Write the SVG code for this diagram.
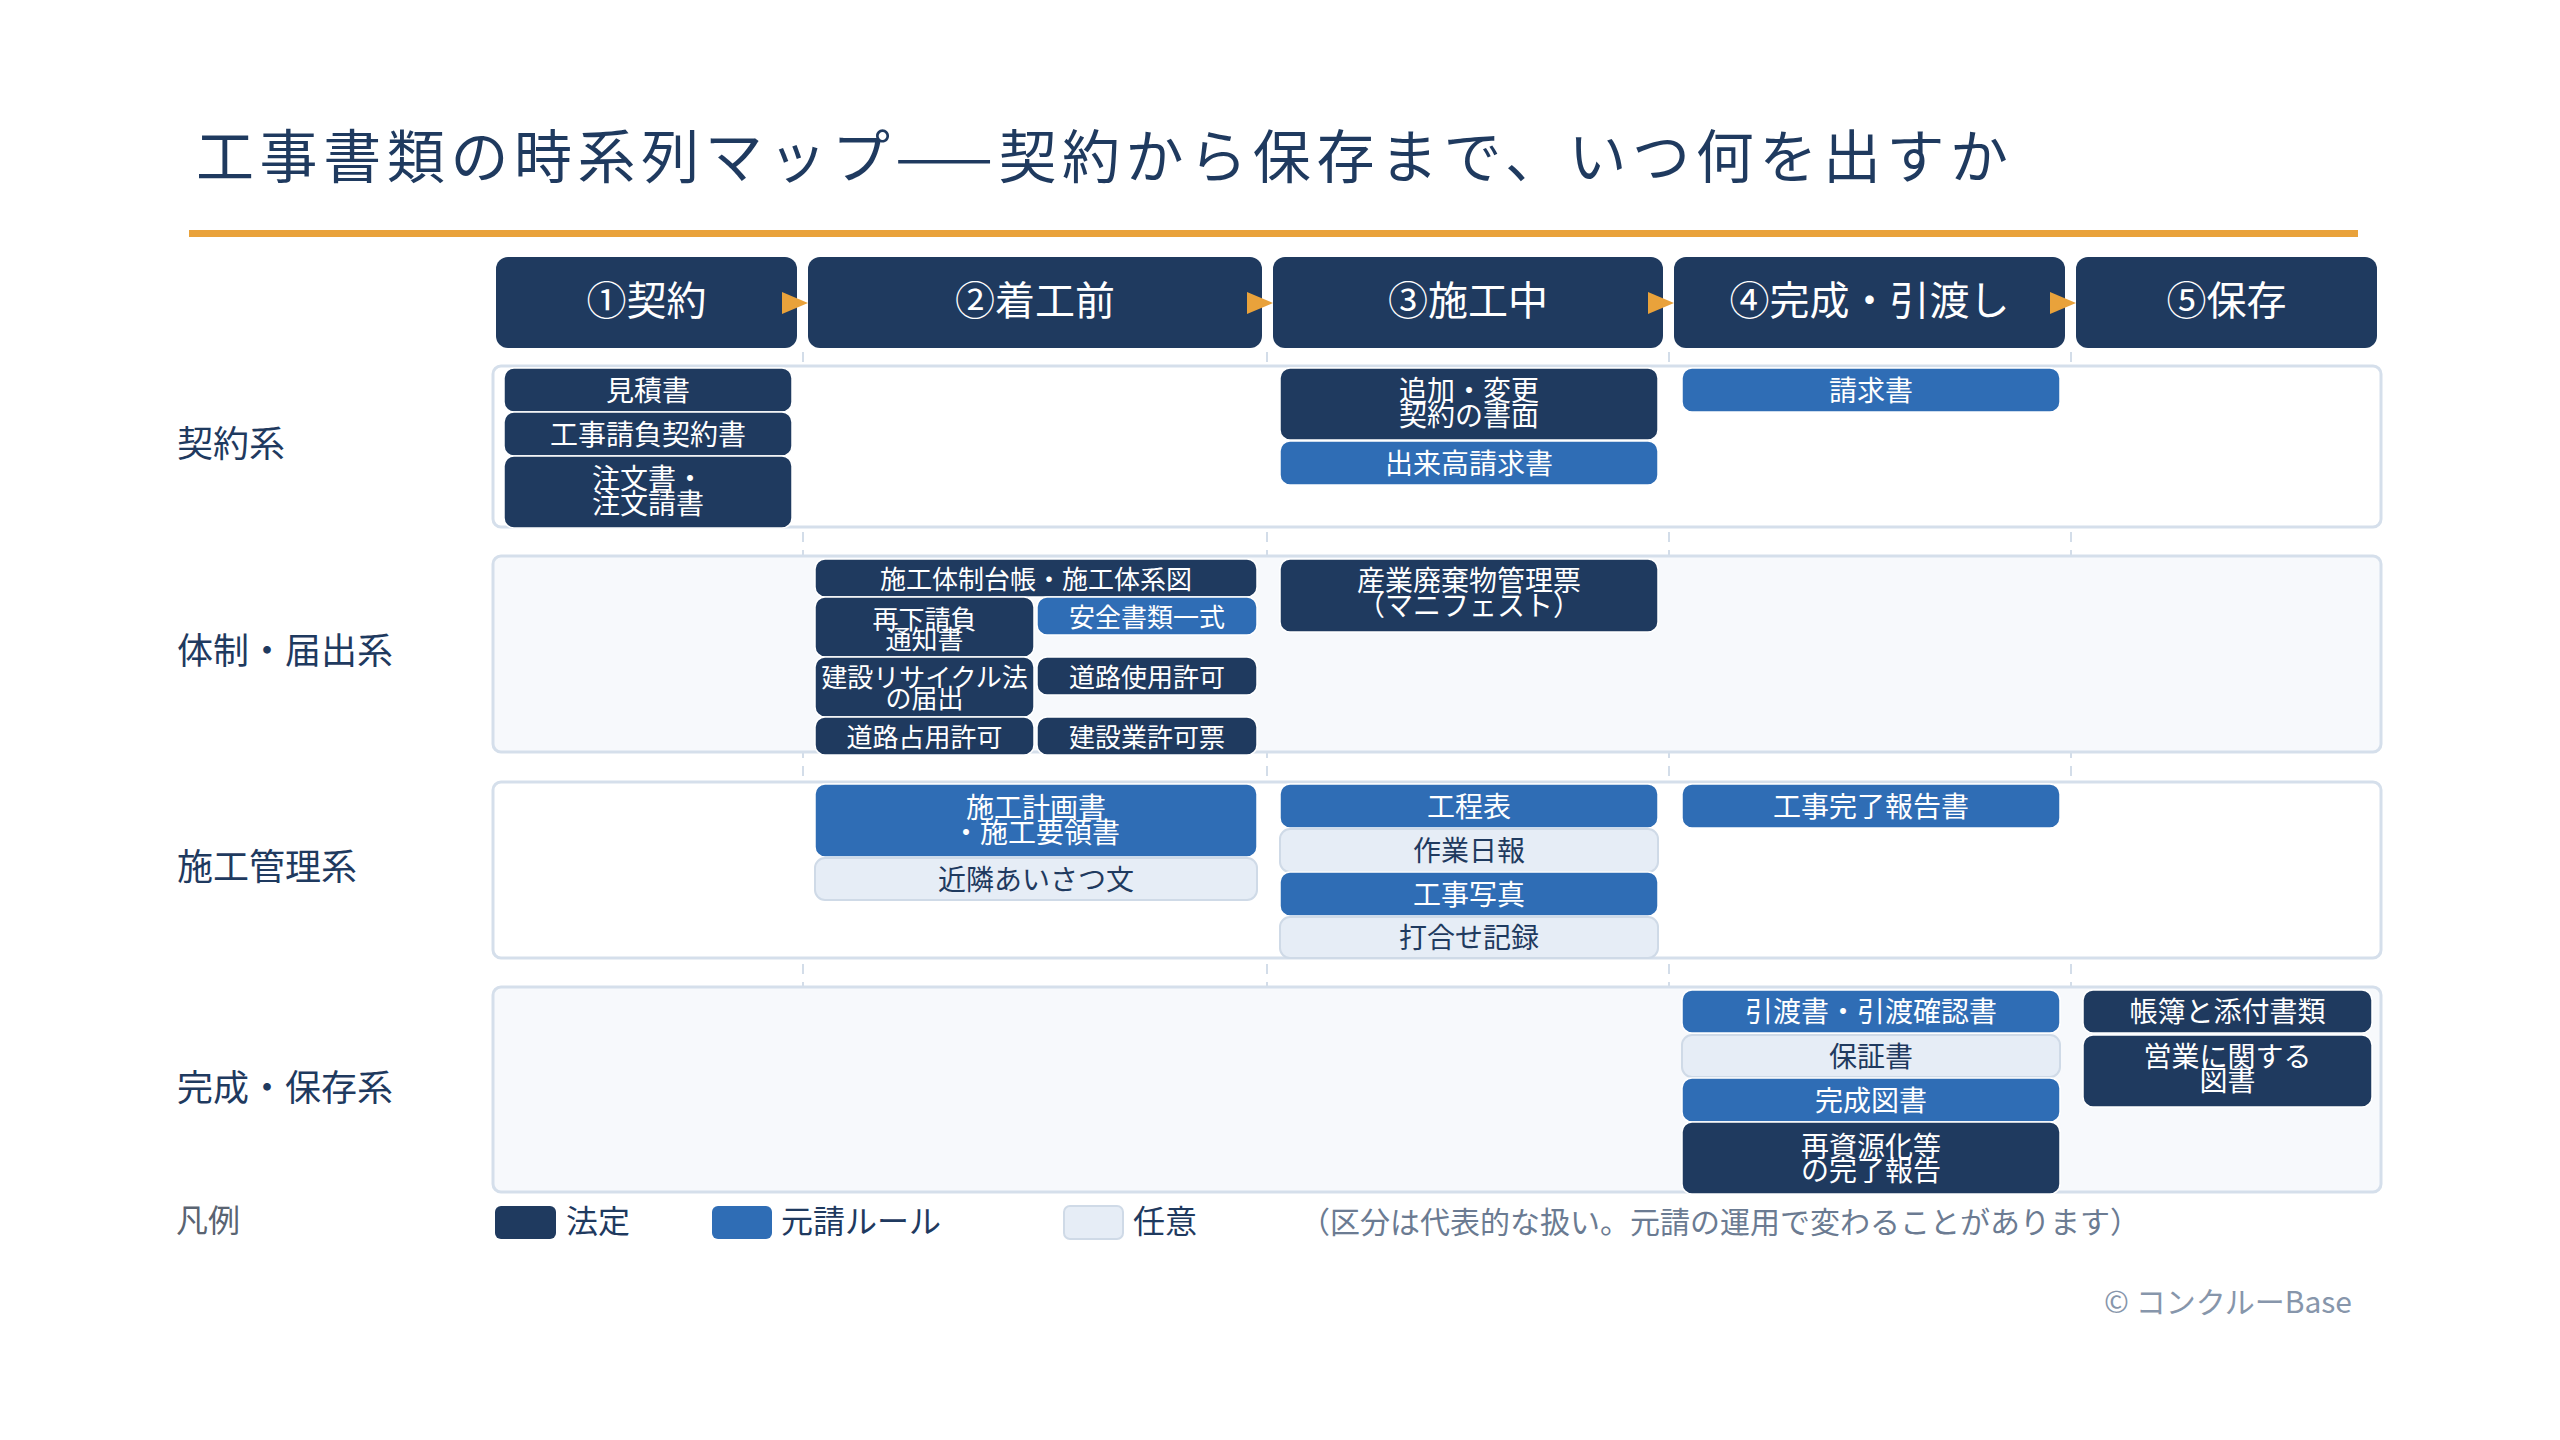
<svg xmlns="http://www.w3.org/2000/svg" width="2560" height="1440" viewBox="0 0 2560 1440">
<style>
text{font-family:"Noto Sans CJK JP","Noto Sans",sans-serif}
.title{font-size:58px;fill:#1f3a5f;letter-spacing:5.6px}
.ph rect{fill:#1f3a5f}
.ph text{font-size:40px;fill:#fff;text-anchor:middle}
.lbl{font-size:36px;fill:#1f3a5f}
.lane{stroke:#d5dfeb;stroke-width:3}
.lw{fill:#ffffff}
.lg{fill:#f7f9fc}
.grid{stroke:#d3dde9;stroke-width:2;stroke-dasharray:10 8}
.arr{fill:#e9a23b}
.d rect{fill:#1f3a5f;stroke:#ffffff;stroke-width:1.5}
.b rect{fill:#2f6db5;stroke:#ffffff;stroke-width:1.5}
.o rect{fill:#e6edf6;stroke:#cfdae7;stroke-width:2}
.d text,.b text{fill:#ffffff;font-size:28px;text-anchor:middle}
.o text{fill:#1f3a5f;font-size:28px;text-anchor:middle}
.s text{font-size:26px}
.leg{font-size:32px;fill:#1f3a5f}
.note{font-size:30px;fill:#6b7b92}
</style>

<rect x="0" y="0" width="2560" height="1440" fill="#ffffff"/>

<text class="title" x="196" y="178">工事書類の時系列マップ——契約から保存まで、いつ何を出すか</text>
<rect x="189" y="230" width="2169" height="7" fill="#e9a23b"/>

<g id="grid">
<line class="grid" x1="803" y1="352" x2="803" y2="1195"/>
<line class="grid" x1="1267" y1="352" x2="1267" y2="1195"/>
<line class="grid" x1="1669" y1="352" x2="1669" y2="1195"/>
<line class="grid" x1="2071" y1="352" x2="2071" y2="1195"/>
</g>

<g id="lanes">
<rect class="lane lw" x="493" y="366" width="1888" height="161" rx="8"/>
<rect class="lane lg" x="493" y="556" width="1888" height="196" rx="8"/>
<rect class="lane lw" x="493" y="782" width="1888" height="176" rx="8"/>
<rect class="lane lg" x="493" y="987" width="1888" height="205" rx="8"/>
<text class="lbl" x="177" y="457">契約系</text>
<text class="lbl" x="177" y="664">体制・届出系</text>
<text class="lbl" x="177" y="880">施工管理系</text>
<text class="lbl" x="177" y="1101">完成・保存系</text>
</g>

<g id="phase1" class="ph"><rect x="496" y="257" width="301" height="91" rx="12"/><text x="646.5" y="315">①契約</text></g>
<g id="phase2" class="ph"><rect x="808" y="257" width="454" height="91" rx="12"/><text x="1035" y="315">②着工前</text></g>
<g id="phase3" class="ph"><rect x="1273" y="257" width="390" height="91" rx="12"/><text x="1468" y="315">③施工中</text></g>
<g id="phase4" class="ph"><rect x="1674" y="257" width="391" height="91" rx="12"/><text x="1869.5" y="315">④完成・引渡し</text></g>
<g id="phase5" class="ph"><rect x="2076" y="257" width="301" height="91" rx="12"/><text x="2226.5" y="315">⑤保存</text></g>

<g id="connectors">
<polygon class="arr" points="782,292 782,314 808,303"/>
<polygon class="arr" points="1247,292 1247,314 1273,303"/>
<polygon class="arr" points="1648,292 1648,314 1674,303"/>
<polygon class="arr" points="2050,292 2050,314 2076,303"/>
</g>

<!-- 契約系 -->
<g id="k1" class="d"><rect x="504" y="368" width="288" height="44" rx="10"/><text x="648" y="400.6">見積書</text></g>
<g id="k2" class="d"><rect x="504" y="412" width="288" height="44" rx="10"/><text x="648" y="444.6">工事請負契約書</text></g>
<g id="k3" class="d"><rect x="504" y="456" width="288" height="72" rx="10"/><text x="648" y="488.5">注文書・</text><text x="648" y="513.5">注文請書</text></g>
<g id="k4" class="d"><rect x="1280" y="368" width="378" height="72" rx="10"/><text x="1469" y="401">追加・変更</text><text x="1469" y="425.5">契約の書面</text></g>
<g id="k5" class="b"><rect x="1280" y="441" width="378" height="44" rx="10"/><text x="1469" y="473.6">出来高請求書</text></g>
<g id="k6" class="b"><rect x="1682" y="368" width="378" height="44" rx="10"/><text x="1871" y="400.6">請求書</text></g>

<!-- 体制・届出系 -->
<g id="t1" class="d s"><rect x="815" y="559" width="442" height="38" rx="10"/><text x="1036" y="588.5">施工体制台帳・施工体系図</text></g>
<g id="t2" class="d s"><rect x="815" y="597" width="219" height="60" rx="10"/><text x="924.5" y="628.5">再下請負</text><text x="924.5" y="649">通知書</text></g>
<g id="t3" class="b s"><rect x="1037" y="597" width="220" height="38" rx="10"/><text x="1147" y="626.5">安全書類一式</text></g>
<g id="t4" class="d s"><rect x="815" y="657" width="219" height="60" rx="10"/><text x="924.5" y="687">建設リサイクル法</text><text x="924.5" y="707.5">の届出</text></g>
<g id="t5" class="d s"><rect x="1037" y="657" width="220" height="38" rx="10"/><text x="1147" y="687">道路使用許可</text></g>
<g id="t6" class="d s"><rect x="815" y="717" width="219" height="38" rx="10"/><text x="924.5" y="746.5">道路占用許可</text></g>
<g id="t7" class="d s"><rect x="1037" y="717" width="220" height="38" rx="10"/><text x="1147" y="746.5">建設業許可票</text></g>
<g id="t8" class="d"><rect x="1280" y="559" width="378" height="73" rx="10"/><text x="1469" y="590.6">産業廃棄物管理票</text><text x="1469" y="615.6">（マニフェスト）</text></g>

<!-- 施工管理系 -->
<g id="s1" class="b"><rect x="815" y="784" width="442" height="73" rx="10"/><text x="1036" y="818">施工計画書</text><text x="1036" y="843">・施工要領書</text></g>
<g id="s2" class="o"><rect x="815" y="858" width="442" height="42" rx="10"/><text x="1036" y="889.6">近隣あいさつ文</text></g>
<g id="s3" class="b"><rect x="1280" y="784" width="378" height="44" rx="10"/><text x="1469" y="816.6">工程表</text></g>
<g id="s4" class="o"><rect x="1280" y="829" width="378" height="43" rx="10"/><text x="1469" y="861">作業日報</text></g>
<g id="s5" class="b"><rect x="1280" y="872" width="378" height="44" rx="10"/><text x="1469" y="904.6">工事写真</text></g>
<g id="s6" class="o"><rect x="1280" y="917" width="378" height="41" rx="10"/><text x="1469" y="948">打合せ記録</text></g>
<g id="s7" class="b"><rect x="1682" y="784" width="378" height="44" rx="10"/><text x="1871" y="816.6">工事完了報告書</text></g>

<!-- 完成・保存系 -->
<g id="h1" class="b"><rect x="1682" y="990" width="378" height="43" rx="10"/><text x="1871" y="1022">引渡書・引渡確認書</text></g>
<g id="h2" class="o"><rect x="1682" y="1035" width="378" height="42" rx="10"/><text x="1871" y="1066.6">保証書</text></g>
<g id="h3" class="b"><rect x="1682" y="1078" width="378" height="44" rx="10"/><text x="1871" y="1110.6">完成図書</text></g>
<g id="h4" class="d"><rect x="1682" y="1122" width="378" height="72" rx="10"/><text x="1871" y="1156.6">再資源化等</text><text x="1871" y="1180.6">の完了報告</text></g>
<g id="h5" class="d"><rect x="2083" y="990" width="289" height="43" rx="10"/><text x="2227.5" y="1022">帳簿と添付書類</text></g>
<g id="h6" class="d"><rect x="2083" y="1035" width="289" height="72" rx="10"/><text x="2227.5" y="1067">営業に関する</text><text x="2227.5" y="1091">図書</text></g>

<g id="legend">
<text x="176" y="1232" font-size="32" fill="#5a6472">凡例</text>
<rect x="495" y="1206" width="61" height="33" rx="6" fill="#1f3a5f"/>
<text class="leg" x="566" y="1233">法定</text>
<rect x="712" y="1206" width="60" height="33" rx="6" fill="#2f6db5"/>
<text class="leg" x="781" y="1233">元請ルール</text>
<rect x="1064" y="1206" width="59" height="33" rx="6" fill="#e6edf6" stroke="#cfdae7" stroke-width="2"/>
<text class="leg" x="1133" y="1233">任意</text>
<text class="note" x="1300" y="1233">（区分は代表的な扱い。元請の運用で変わることがあります）</text>
</g>

<text x="2352" y="1313" font-size="30" fill="#8796ab" text-anchor="end" font-family="'Noto Sans CJK JP','Noto Sans',sans-serif">© コンクルーBase</text>
</svg>
